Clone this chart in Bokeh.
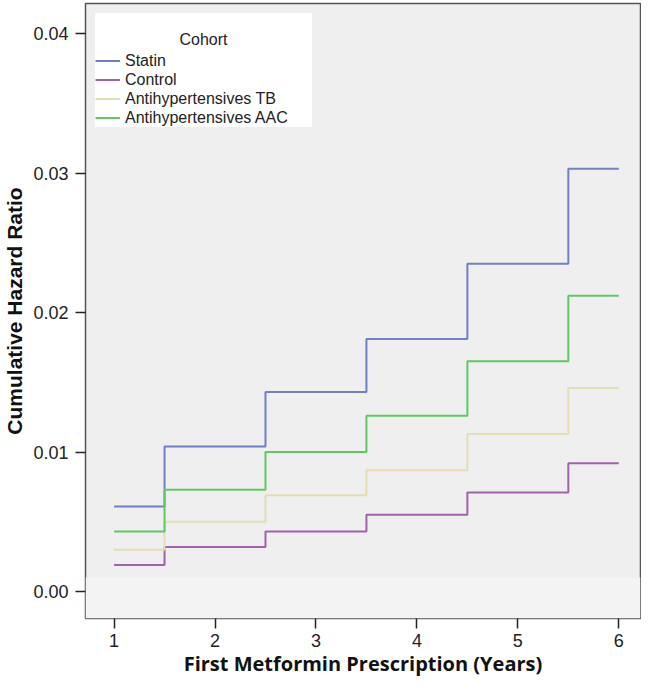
from bokeh.plotting import figure
from bokeh.models import Legend, LegendItem, FixedTicker, NumeralTickFormatter, Range1d, BoxAnnotation
from bokeh.embed import file_html
from bokeh.resources import INLINE

# Data
years = [1, 1.5, 2.5, 3.5, 4.5, 5.5, 6]
statin = [0.0061, 0.0104, 0.0143, 0.0181, 0.0235, 0.0303]
control = [0.0019, 0.0032, 0.0043, 0.0055, 0.0071, 0.0092]
anti_tb = [0.0030, 0.0050, 0.0069, 0.0087, 0.0113, 0.0146]
anti_aac = [0.0043, 0.0073, 0.0100, 0.0126, 0.0165, 0.0212]
series_names = ["Statin", "Control", "Antihypertensives TB", "Antihypertensives AAC"]
series_values = [statin, control, anti_tb, anti_aac]
colors = ["#6f80c4", "#a262aa", "#e2ddb3", "#5fc863"]
x_ticks = [1, 2, 3, 4, 5, 6]
y_ticks = [0.0, 0.01, 0.02, 0.03, 0.04]

p = figure(width=641, height=679, output_backend="svg", toolbar_location=None,
           x_range=Range1d(0.717, 6.215), y_range=Range1d(-0.00193, 0.04215),
           min_border_left=77, min_border_right=1, min_border_top=3, min_border_bottom=60)

p.background_fill_color = "#efefef"
p.border_fill_color = "white"
p.outline_line_color = "#555555"
p.outline_line_width = 1.5
p.xgrid.visible = False
p.ygrid.visible = False

p.add_layout(BoxAnnotation(top=0.001, fill_color="#f3f3f3", fill_alpha=1.0, line_color=None, level="underlay"))

items = []
for name, vals, c in zip(series_names, series_values, colors):
    ys = list(vals) + [vals[-1]]
    r = p.step(years, ys, mode="after", line_color=c, line_width=2)
    items.append(LegendItem(label=name, renderers=[r]))

pad = "\u00a0" * 19
legend = Legend(items=items, location="top_left", title="\u00a0\n" + pad + "Cohort" + pad,
                title_text_font="Liberation Sans", title_text_font_size="16px",
                title_text_font_style="normal", title_text_color="#222222",
                title_standoff=2,
                label_text_font="Liberation Sans", label_text_font_size="16px",
                label_text_color="#222222", label_height=19, label_standoff=5,
                glyph_width=25, glyph_height=19, spacing=0, padding=12, margin=10,
                background_fill_color="white", background_fill_alpha=1.0,
                border_line_color=None)
p.add_layout(legend)

for ax in (p.xaxis[0], p.yaxis[0]):
    ax.axis_line_color = None
    ax.major_tick_out = 10
    ax.major_tick_in = 0
    ax.minor_tick_out = 0
    ax.minor_tick_in = 0
    ax.major_tick_line_color = "#222222"
    ax.major_tick_line_width = 1.5
    ax.major_label_text_font = "Liberation Sans"
    ax.major_label_text_font_size = "18px"
    ax.major_label_text_color = "#222222"
    ax.axis_label_text_color = "#111111"
    ax.axis_label_text_font_style = "bold"

p.xaxis.ticker = FixedTicker(ticks=x_ticks)
p.yaxis.ticker = FixedTicker(ticks=y_ticks)
p.yaxis.formatter = NumeralTickFormatter(format="0.00")
p.xaxis.axis_label = "First Metformin Prescription (Years)"
p.xaxis.axis_label_text_font = "Open Sans"
p.xaxis.axis_label_text_font_size = "20px"
p.xaxis.major_label_standoff = 5
p.xaxis.axis_label_standoff = 0
p.yaxis.axis_label = "Cumulative Hazard Ratio"
p.yaxis.axis_label_text_font = "Liberation Sans"
p.yaxis.axis_label_text_font_size = "21px"
p.yaxis.major_label_standoff = 7
p.yaxis.axis_label_standoff = 4

open("out.html", "w").write(file_html(p, INLINE))
